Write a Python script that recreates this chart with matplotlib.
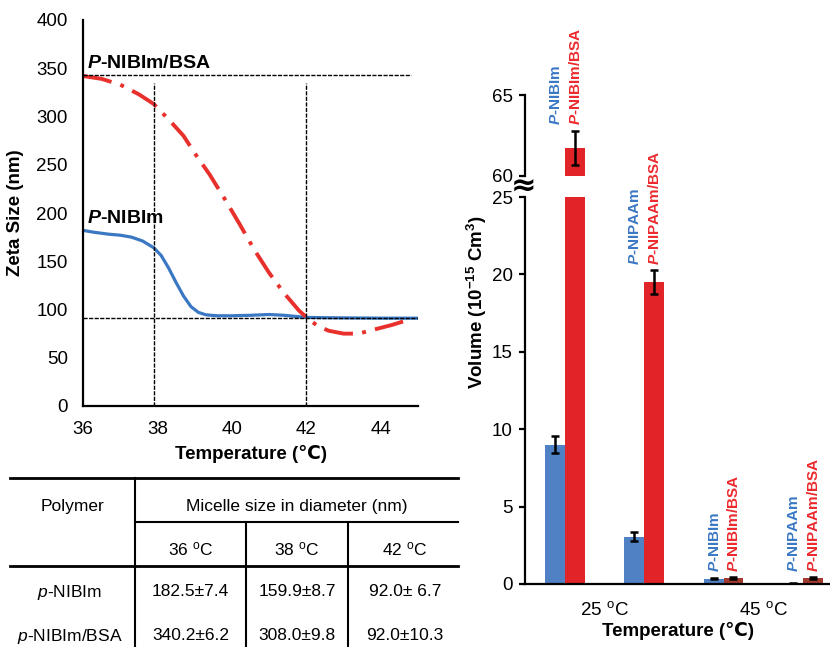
import matplotlib
matplotlib.use("Agg")
import matplotlib.pyplot as plt
from matplotlib.lines import Line2D
import numpy as np

# ============================================================
# fonts
# ============================================================
plt.rcParams['font.family'] = ['Liberation Sans', 'DejaVu Sans']
plt.rcParams['mathtext.fontset'] = 'custom'
plt.rcParams['mathtext.rm'] = 'Liberation Sans'
plt.rcParams['mathtext.it'] = 'Liberation Sans:italic'
plt.rcParams['mathtext.bf'] = 'Liberation Sans:bold'
plt.rcParams['mathtext.bfit'] = 'Liberation Sans:italic:bold'

# ============================================================
# data: zeta size curves
# ============================================================
temp_blue = [36.0, 36.3, 36.7, 37.0, 37.3, 37.6, 37.9, 38.1, 38.3, 38.5, 38.7,
             38.9, 39.1, 39.3, 39.6, 40.0, 40.5, 41.0, 41.4, 41.8, 42.0, 42.5,
             43.0, 44.0, 45.0]
size_blue = [182, 180, 178, 177, 175, 171, 164, 156, 143, 128, 114,
             103, 97, 94.5, 93.5, 93.5, 94, 94.8, 94, 92.5, 91.8, 91.5,
             91.3, 91, 91]

temp_red = [36.0, 36.5, 37.0, 37.5, 37.9, 38.3, 38.7, 39.0, 39.4, 39.8, 40.2,
            40.6, 41.0, 41.4, 41.8, 42.0, 42.3, 42.6, 43.0, 43.4, 43.8, 44.3, 44.8]
size_red = [342, 339, 333, 323, 313, 297, 280, 262, 240, 215, 189,
            162, 138, 117, 99, 92, 83, 78, 75, 75, 79, 84, 90]

# ============================================================
# data: table
# ============================================================
table_temps = ["36", "38", "42"]
table_rows = [r"$\mathit{p}$-NIBIm", r"$\mathit{p}$-NIBIm/BSA"]
table_vals = [["182.5\u00b17.4", "159.9\u00b18.7", "92.0\u00b1 6.7"],
              ["340.2\u00b16.2", "308.0\u00b19.8", "92.0\u00b110.3"]]

# ============================================================
# data: volume bars
# ============================================================
cat_labels = [r"25 $^{\mathrm{o}}$C", r"45 $^{\mathrm{o}}$C"]
blue_names = ["P-NIBIm", "P-NIPAAm", "P-NIBIm", "P-NIPAAm"]
red_names = ["P-NIBIm/BSA", "P-NIPAAm/BSA", "P-NIBIm/BSA", "P-NIPAAm/BSA"]
blue_vals = [9.0, 3.05, 0.35, 0.05]
blue_err = [0.55, 0.28, 0.04, 0.03]
red_vals = [61.7, 19.5, 0.38, 0.38]
red_err = [1.05, 0.78, 0.04, 0.04]

blue_bar = "#4F81C4"
red_bar = "#E02428"
brown_bar = "#A23A2F"
blue_txt = "#3A78C4"
red_txt = "#EC2A2E"

W, H = 830, 647
fig = plt.figure(figsize=(8.3, 6.47), dpi=100)


def box(x0, y0, x1, y1):
    # pixel box (top-left origin) -> figure fraction
    return [x0 / W, 1 - y1 / H, (x1 - x0) / W, (y1 - y0) / H]


def fx(x):
    return x / W


def fy(y):
    return 1 - y / H


# ============================================================
# left: zeta size
# ============================================================
ax = fig.add_axes(box(83, 20, 418, 406))
ax.plot(temp_blue, size_blue, color="#3A78C4", lw=2.3, solid_capstyle="round")
ax.plot(temp_red, size_red, color="#E8302C", lw=2.8,
        linestyle=(0, (7.5, 2.4, 1.0, 2.4)))

ax.plot([36, 44.8], [343, 343], color="black", lw=1.0, ls=(0, (3, 1)))
ax.plot([36, 45], [91, 91], color="black", lw=1.0, ls=(0, (3, 1)))
ax.plot([37.9, 37.9], [0, 335], color="black", lw=1.0, ls=(0, (3, 1)))
ax.plot([42.0, 42.0], [0, 335], color="black", lw=1.0, ls=(0, (3, 1)))

ax.text(36.1, 350, r"$\mathbfit{P}$-NIBIm/BSA", fontsize=14,
        fontweight="bold", ha="left", va="baseline")
ax.text(36.1, 190, r"$\mathbfit{P}$-NIBIm", fontsize=14,
        fontweight="bold", ha="left", va="baseline")

ax.set_xlim(36, 45)
ax.set_ylim(0, 400)
ax.set_xticks([36, 38, 40, 42, 44])
ax.set_yticks(np.arange(0, 401, 50))
ax.tick_params(axis="y", length=0, labelsize=13.5, pad=11)
ax.tick_params(axis="x", length=0, labelsize=13.5, pad=11)
ax.spines["top"].set_visible(False)
ax.spines["right"].set_visible(False)
ax.spines["left"].set_linewidth(1.6)
ax.spines["bottom"].set_linewidth(1.6)
ax.set_xlabel("Temperature (\u2103)", fontsize=13.5, fontweight="bold", labelpad=5)
ax.set_ylabel("Zeta Size (nm)", fontsize=13.5, fontweight="bold")
ax.yaxis.set_label_coords(-0.176, 0.5)

# ============================================================
# table
# ============================================================
lines = [
    (10, 458, 478, 478, 2.0),
    (135, 458, 522, 522, 1.5),
    (10, 458, 566, 566, 2.0),
]
for x0, x1, y0, y1, lw in lines:
    fig.add_artist(Line2D([fx(x0), fx(x1)], [fy(y0), fy(y1)], color="black", lw=lw))
for xv, ytop in [(135, 478), (246, 522), (348, 522)]:
    fig.add_artist(Line2D([fx(xv), fx(xv)], [fy(ytop), fy(H + 5)], color="black", lw=1.5))

tfs = 12.5
fig.text(fx(72), fy(506), "Polymer", fontsize=tfs, ha="center", va="center")
fig.text(fx(297), fy(506), "Micelle size in diameter (nm)", fontsize=tfs,
         ha="center", va="center")
col_x = [190.5, 297, 405]
for cx, t in zip(col_x, table_temps):
    fig.text(fx(cx), fy(549), t + r" $^{\mathrm{o}}$C", fontsize=tfs,
             ha="center", va="center")
row_y = [592, 636]
for ry, name, vals in zip(row_y, table_rows, table_vals):
    fig.text(fx(70), fy(ry), name, fontsize=tfs, ha="center", va="center")
    for cx, v in zip(col_x, vals):
        fig.text(fx(cx), fy(ry), v, fontsize=tfs, ha="center", va="center")

# ============================================================
# right: volume bars (broken axis)
# ============================================================
ax_lo = fig.add_axes(box(525, 197, 830, 584))
ax_hi = fig.add_axes(box(525, 95, 830, 176))

x = np.arange(len(blue_vals))
bw = 0.25
red_cols = [red_bar, red_bar, brown_bar, brown_bar]
ekw = dict(elinewidth=1.8, capsize=3, capthick=1.8, ecolor="black")

for a in (ax_lo, ax_hi):
    a.patch.set_visible(False)
    a.bar(x - bw / 2, blue_vals, bw, color=blue_bar, yerr=blue_err,
          error_kw=ekw)
    a.bar(x + bw / 2, red_vals, bw, color=red_cols, yerr=red_err,
          error_kw=ekw)
    a.set_xlim(-0.5, 3.34)
    a.spines["top"].set_visible(False)
    a.spines["right"].set_visible(False)
    a.spines["left"].set_linewidth(1.6)
    a.tick_params(axis="y", length=4, width=1.6, labelsize=13.5, pad=5)

ax_lo.set_ylim(0, 25)
ax_lo.set_yticks([0, 5, 10, 15, 20, 25])
ax_lo.spines["bottom"].set_linewidth(1.6)
ax_lo.set_xticks([0.5, 2.5])
ax_lo.set_xticklabels(cat_labels)
ax_lo.tick_params(axis="x", length=0, labelsize=13.5, pad=12)
ax_lo.set_xlabel("Temperature (\u2103)", fontsize=13.5, fontweight="bold", labelpad=2)

ax_hi.set_ylim(60, 65)
ax_hi.set_yticks([60, 65])
ax_hi.spines["bottom"].set_visible(False)
ax_hi.set_xticks([])

# break mark
fig.text(fx(524), fy(187), "\u2248", fontsize=22, fontweight="bold",
         ha="center", va="center", family=["DejaVu Sans"])

# bar labels
label_base = [63.15, 20.6, 0.78, 0.78]
for i in range(len(x)):
    a = ax_hi if i == 0 else ax_lo
    a.text(x[i] - 0.11, label_base[i], r"$\mathbfit{P}$" + blue_names[i][1:],
           rotation=90, ha="center", va="bottom", fontsize=11,
           fontweight="bold", color=blue_txt, clip_on=False)
    a.text(x[i] + 0.13, label_base[i], r"$\mathbfit{P}$" + red_names[i][1:],
           rotation=90, ha="center", va="bottom", fontsize=11,
           fontweight="bold", color=red_txt, clip_on=False)

fig.text(fx(477), fy(302), r"Volume (10$^{\mathbf{-15}}$ Cm$^{\mathbf{3}}$)",
         rotation=90, fontsize=13.5, fontweight="bold", ha="center", va="center")

fig.savefig("out.png", dpi=100)
